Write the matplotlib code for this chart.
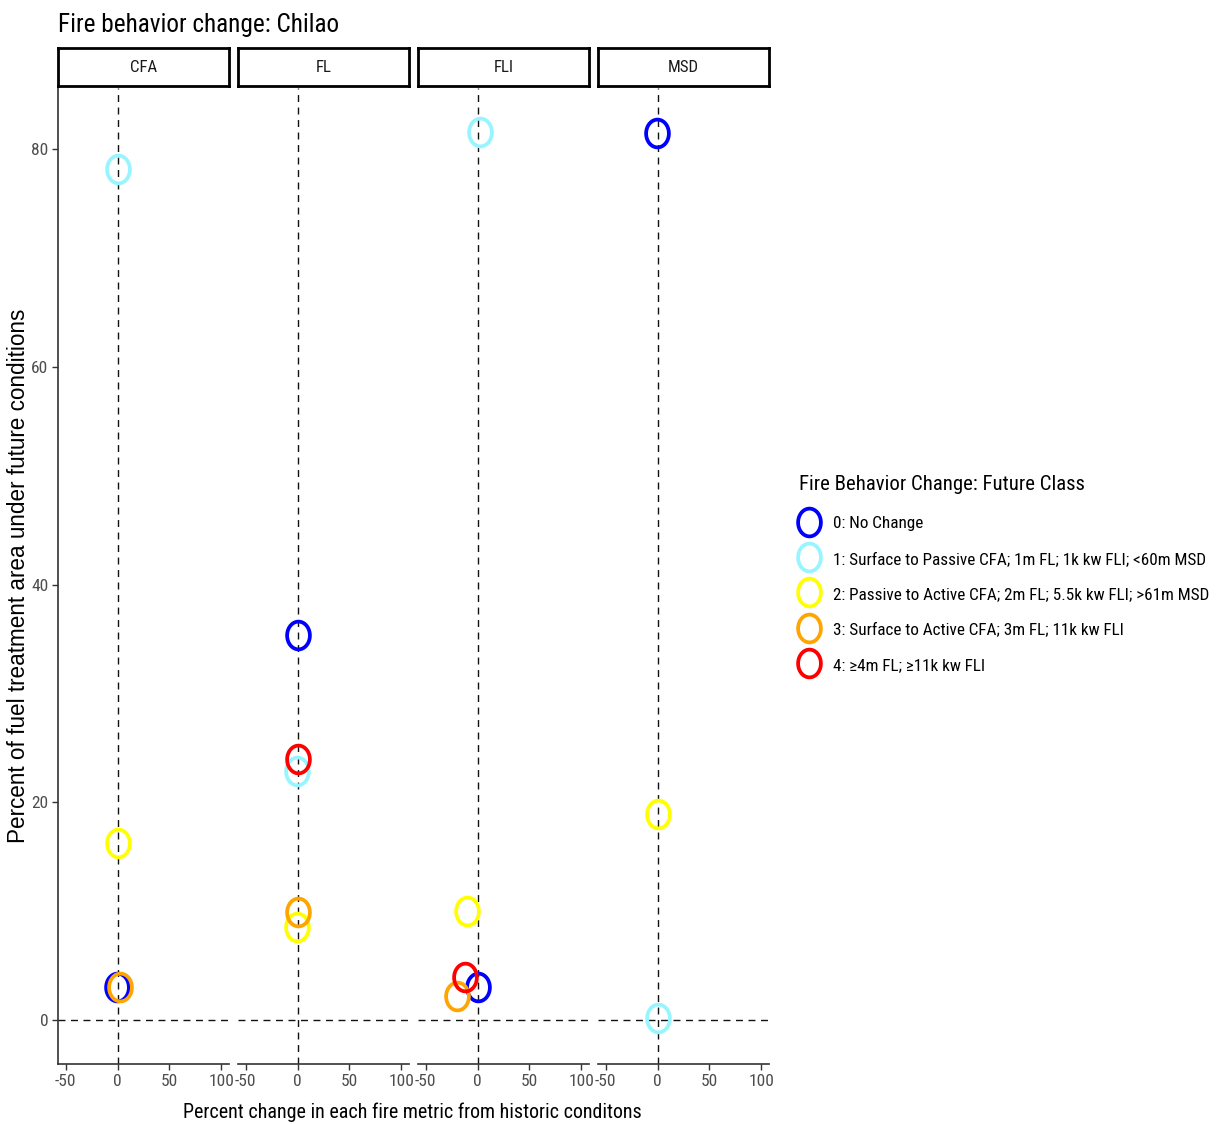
import numpy as np
import matplotlib
matplotlib.use("Agg")
import matplotlib.pyplot as plt
from matplotlib import font_manager as fm
from matplotlib.path import Path
from matplotlib.lines import Line2D

# ---------------- data ----------------
metrics = ["CFA", "FL", "FLI", "MSD"]
class_labels = [
    "0: No Change",
    "1: Surface to Passive CFA; 1m FL; 1k kw FLI; <60m MSD",
    "2: Passive to Active CFA; 2m FL; 5.5k kw FLI; >61m MSD",
    "3: Surface to Active CFA; 3m FL; 11k kw FLI",
    "4: \u22654m FL; \u226511k kw FLI",
]
class_colors = ["#0000FF", "#98F5FF", "#FFFF00", "#FFA500", "#FF0000"]

point_metric = ["CFA", "CFA", "CFA", "CFA",
                "FL", "FL", "FL", "FL", "FL",
                "FLI", "FLI", "FLI", "FLI", "FLI",
                "MSD", "MSD", "MSD"]
point_class = [0, 1, 2, 3,
               0, 1, 2, 3, 4,
               0, 1, 2, 3, 4,
               0, 1, 2]
pct_change = [-1, 0, 0, 2,
              0, -1, -1, 0, 0,
              0, 2, -10, -20, -12,
              -1, 0, 0]
pct_area = [3.0, 78.2, 16.3, 3.0,
            35.4, 22.9, 8.5, 9.9, 24.0,
            3.0, 81.6, 10.0, 2.2, 3.9,
            81.5, 0.2, 18.9]

x_ticks = [-50, 0, 50, 100]
y_ticks = [0, 20, 40, 60, 80]

title = "Fire behavior change: Chilao"
xlab = "Percent change in each fire metric from historic conditons"
ylab = "Percent of fuel treatment area under future conditions"
legend_title = "Fire Behavior Change: Future Class"

# ---------------- fonts ----------------
def has_font(name):
    try:
        fm.findfont(fm.FontProperties(family=name), fallback_to_default=False)
        return True
    except Exception:
        return False

NARROW = None
for cand in ["Liberation Sans Narrow", "Arial Narrow", "Roboto Condensed",
             "Open Sans Condensed", "Noto Sans Condensed"]:
    if has_font(cand):
        NARROW = cand
        break
if NARROW is None:
    for f in fm.fontManager.ttflist:
        low = (f.name + " " + f.fname).lower()
        if ("narrow" in low or "condensed" in low) and "sans" in low and "mono" not in low \
                and "serif" not in f.name.lower() and f.weight in (400, "normal", "regular"):
            NARROW = f.name
            break
if NARROW is None:
    NARROW = "Liberation Sans"
FN = [NARROW, "DejaVu Sans"]
REG = ["Liberation Sans", "DejaVu Sans"]

# ---------------- layout ----------------
W, H = 1217, 1124
fig = plt.figure(figsize=(W / 100, H / 100), dpi=100)
fig.patch.set_facecolor("white")
renderer = fig.canvas.get_renderer()

def fit_size(text, family, target_px, start=12.0):
    t = fig.text(0, 0, text, fontfamily=family, fontsize=start)
    w = t.get_window_extent(renderer=renderer).width
    t.remove()
    return start * target_px / w

def fbox(x0, x1, ytop, ybot):
    return [x0 / W, 1 - ybot / H, (x1 - x0) / W, (ybot - ytop) / H]

panel_left = [58, 238, 418, 598]
panel_w = 171
ptop, pbot = 88, 1064
strip_top = 48

# text sizes fitted to the widths seen in the reference
title_fs = fit_size(title, FN, 281)
xlab_fs = fit_size(xlab, FN, 458)
ylab_fs = fit_size(ylab, REG, 535)
legt_fs = fit_size(legend_title, FN, 284)
leg_fs = fit_size(class_labels[1], FN, 374)
tick_fs = min(fit_size("100", FN, 27), 12.5)
strip_fs = min(fit_size("MSD", FN, 31), 12.5)

# elliptical open marker (reference circles look slightly taller than wide)
t = np.linspace(0, 2 * np.pi, 73)
ell = Path(np.column_stack([0.41 * np.cos(t), 0.5 * np.sin(t)]), closed=True)
MS, MEW = 20, 2.7

xlim = (-57.5, 107.5)
ylim = (-4.05, 85.65)

pm = np.array(point_metric)
pc = np.array(point_class)
px = np.array(pct_change, dtype=float)
py = np.array(pct_area, dtype=float)

for i, m in enumerate(metrics):
    ax = fig.add_axes(fbox(panel_left[i], panel_left[i] + panel_w, ptop, pbot))
    ax.set_xlim(*xlim)
    ax.set_ylim(*ylim)
    ax.axvline(0, color="#111111", lw=1.0, ls=(0, (5, 4)), zorder=1)
    ax.axhline(0, color="#111111", lw=1.0, ls=(0, (5, 4)), zorder=1)
    for k in range(len(class_labels)):
        sel = (pm == m) & (pc == k)
        if sel.any():
            ax.plot(px[sel], py[sel], ls="none", marker=ell, markersize=MS,
                    markerfacecolor="none", markeredgecolor=class_colors[k],
                    markeredgewidth=MEW, zorder=3)
    for s in ["top", "right"]:
        ax.spines[s].set_visible(False)
    ax.spines["bottom"].set_linewidth(1.2)
    ax.spines["bottom"].set_color("#333333")
    if i == 0:
        ax.spines["left"].set_linewidth(1.2)
        ax.spines["left"].set_color("#333333")
        ax.set_yticks(y_ticks)
        ax.set_yticklabels([str(v) for v in y_ticks], fontfamily=FN, fontsize=tick_fs,
                           color="#4D4D4D")
    else:
        ax.spines["left"].set_visible(False)
        ax.set_yticks([])
    ax.set_xticks(x_ticks)
    ax.set_xticklabels([str(v) for v in x_ticks], fontfamily=FN, fontsize=tick_fs,
                       color="#4D4D4D")
    ax.tick_params(axis="both", length=4, width=1.0, color="#333333", pad=3)
    ax.patch.set_alpha(0)

    # strip
    sax = fig.add_axes(fbox(panel_left[i], panel_left[i] + panel_w, strip_top, ptop - 2))
    sax.set_xticks([]); sax.set_yticks([])
    for s in sax.spines.values():
        s.set_linewidth(2.0)
        s.set_color("black")
    sax.text(0.5, 0.5, m, ha="center", va="center", fontfamily=FN, fontsize=strip_fs,
             color="#1A1A1A", transform=sax.transAxes)

# titles
fig.text(58 / W, 1 - 25 / H, title, ha="left", va="center", fontfamily=FN,
         fontsize=title_fs, color="black")
fig.text(412 / W, 1 - 1112 / H, xlab, ha="center", va="center",
         fontfamily=FN, fontsize=xlab_fs, color="black")
fig.text(19 / W, 1 - 576 / H, ylab, ha="center", va="center", rotation=90,
         fontfamily=REG, fontsize=ylab_fs, color="black")

# legend
handles = [Line2D([], [], ls="none", marker=ell, markersize=MS, markerfacecolor="none",
                  markeredgecolor=c, markeredgewidth=MEW) for c in class_colors]
pitch_pt = 36 * 0.72
leg = fig.legend(handles, class_labels, loc="upper left",
                 bbox_to_anchor=(799 / W, 1 - 475 / H), frameon=False,
                 title=legend_title, alignment="left",
                 prop={"family": FN, "size": leg_fs},
                 title_fontproperties={"family": FN, "size": legt_fs},
                 handleheight=1.0, labelspacing=(pitch_pt - leg_fs * 1.0) / leg_fs,
                 handlelength=1.15, handletextpad=0.85,
                 borderpad=0.0, borderaxespad=0)
leg._legend_box.sep = 15
# keep the title where the reference has it while entries start just right of it
leg._legend_title_box.set_offset = leg._legend_title_box.set_offset

fig.savefig("out.png", dpi=100, facecolor="white")
